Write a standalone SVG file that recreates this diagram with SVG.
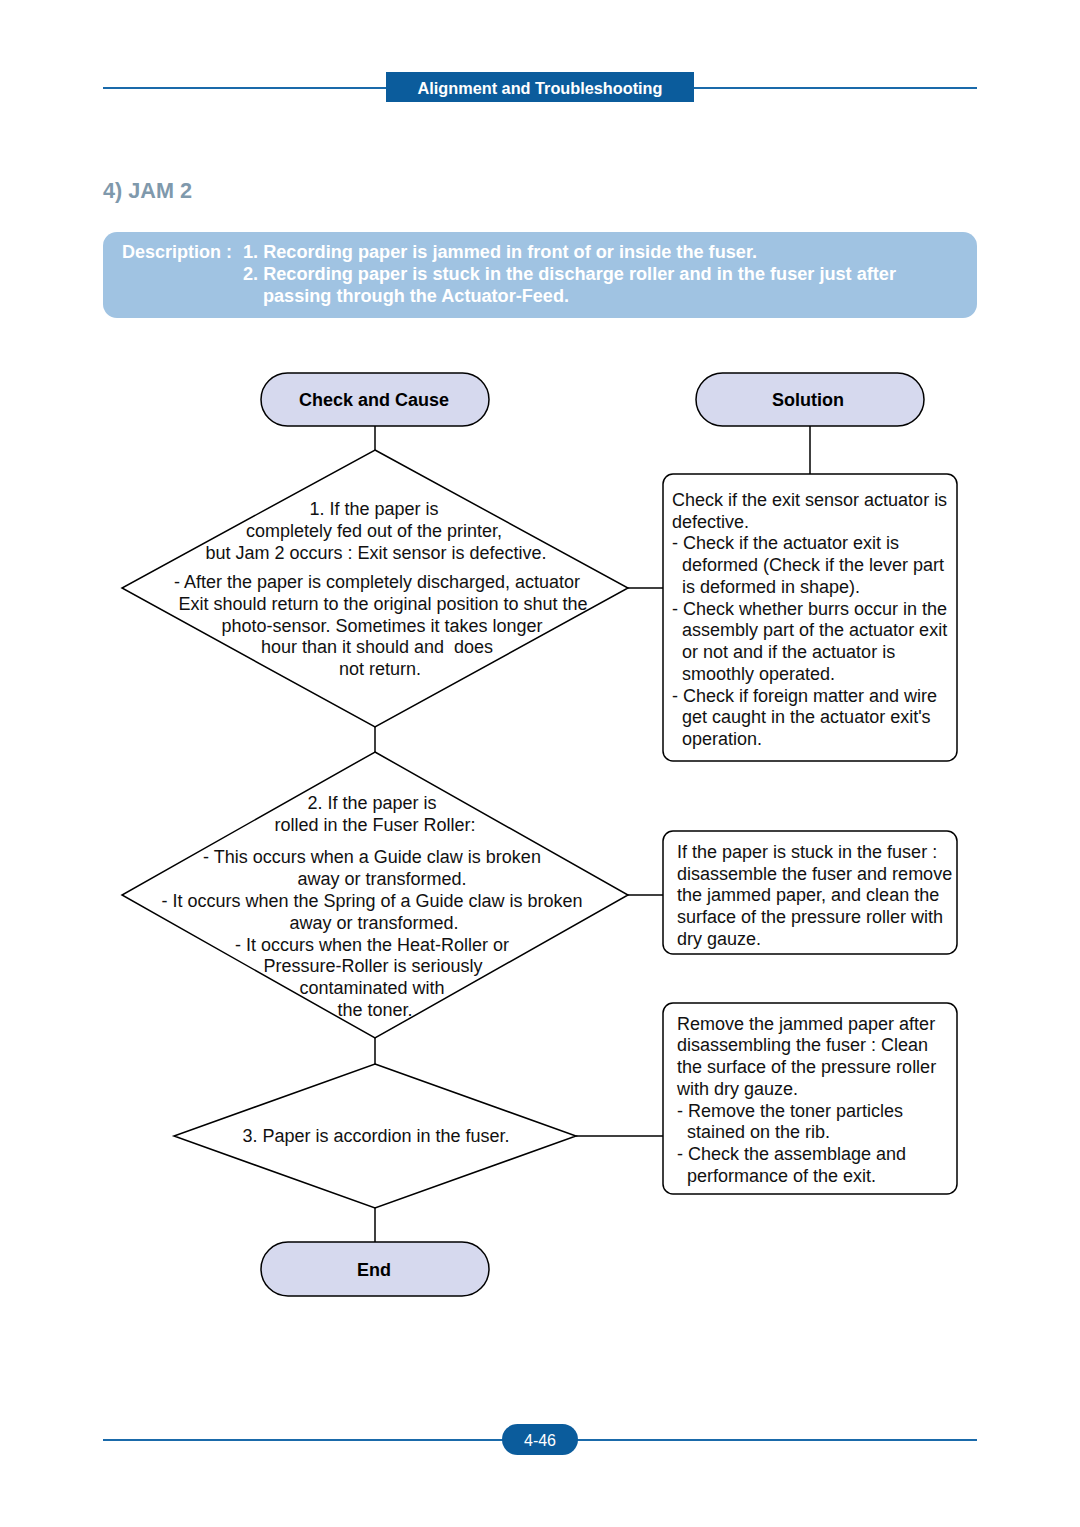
<svg xmlns="http://www.w3.org/2000/svg" width="1080" height="1527" viewBox="0 0 1080 1527">
<style>
.ln{stroke:#000;stroke-width:1.5;fill:none}
.pill{fill:#d6d9ee;stroke:#000;stroke-width:1.5}
.dia{fill:#fff;stroke:#000;stroke-width:1.5}
.box{fill:#fff;stroke:#000;stroke-width:1.5}
.t{font-family:"Liberation Sans",Arial,sans-serif;font-size:18px;fill:#111}
.tb{font-family:"Liberation Sans",Arial,sans-serif;font-size:18px;font-weight:bold;fill:#000}
.c{text-anchor:middle}
.hd{font-family:"Liberation Sans",Arial,sans-serif;font-weight:bold;fill:#fff}
</style>
<rect width="1080" height="1527" fill="#fff"/>
<g id="header">
<line x1="103" y1="88" x2="977" y2="88" stroke="#1a6aaa" stroke-width="2"/>
<rect x="386" y="72" width="308" height="30" fill="#0b5c9c"/>
<text class="hd" x="540" y="94" font-size="16" text-anchor="middle" textLength="245" lengthAdjust="spacingAndGlyphs">Alignment and Troubleshooting</text>
</g>
<text id="title" x="103" y="198" font-family="'Liberation Sans',Arial,sans-serif" font-size="22" font-weight="bold" fill="#7f99ac" textLength="89" lengthAdjust="spacingAndGlyphs">4) JAM 2</text>
<g id="description">
<rect x="103" y="232" width="874" height="86" rx="14" fill="#a0c3e2"/>
<text class="hd" x="122" y="258" font-size="18" textLength="110" lengthAdjust="spacingAndGlyphs">Description :</text>
<text class="hd" x="243" y="258" font-size="18" textLength="514" lengthAdjust="spacingAndGlyphs">1. Recording paper is jammed in front of or inside the fuser.</text>
<text class="hd" x="243" y="280" font-size="18" textLength="653" lengthAdjust="spacingAndGlyphs">2. Recording paper is stuck in the discharge roller and in the fuser just after</text>
<text class="hd" x="263" y="302" font-size="18" textLength="306" lengthAdjust="spacingAndGlyphs">passing through the Actuator-Feed.</text>
</g>
<g id="connectors">
<line class="ln" x1="375" y1="426" x2="375" y2="450"/>
<line class="ln" x1="810" y1="426" x2="810" y2="474"/>
<line class="ln" x1="628" y1="588" x2="663" y2="588"/>
<line class="ln" x1="375" y1="727" x2="375" y2="752"/>
<line class="ln" x1="628" y1="895" x2="663" y2="895"/>
<line class="ln" x1="375" y1="1038" x2="375" y2="1064"/>
<line class="ln" x1="576" y1="1136" x2="663" y2="1136"/>
<line class="ln" x1="375" y1="1208" x2="375" y2="1242"/>
</g>
<g id="check-and-cause">
<rect class="pill" x="261" y="373" width="228" height="53" rx="26.5"/>
<text class="tb c" x="374" y="406">Check and Cause</text>
</g>
<g id="solution">
<rect class="pill" x="696" y="373" width="228" height="53" rx="26.5"/>
<text class="tb c" x="808" y="406">Solution</text>
</g>
<g id="decision1">
<polygon class="dia" points="375,450 628,588 375,727 122,588"/>
<text class="t c" x="374" y="515">1. If the paper is</text>
<text class="t c" x="374" y="537">completely fed out of the printer,</text>
<text class="t c" x="376" y="559">but Jam 2 occurs : Exit sensor is defective.</text>
<text class="t c" x="377" y="588">- After the paper is completely discharged, actuator</text>
<text class="t c" x="383" y="610">Exit should return to the original position to shut the</text>
<text class="t c" x="382" y="632">photo-sensor. Sometimes it takes longer</text>
<text class="t c" x="377" y="653" xml:space="preserve">hour than it should and  does</text>
<text class="t c" x="380" y="675">not return.</text>
</g>
<g id="solution1">
<rect class="box" x="663" y="474" width="294" height="287" rx="10"/>
<text class="t" x="672" y="506">Check if the exit sensor actuator is</text>
<text class="t" x="672" y="528">defective.</text>
<text class="t" x="672" y="549">- Check if the actuator exit is</text>
<text class="t" x="682" y="571">deformed (Check if the lever part</text>
<text class="t" x="682" y="593">is deformed in shape).</text>
<text class="t" x="672" y="615">- Check whether burrs occur in the</text>
<text class="t" x="682" y="636">assembly part of the actuator exit</text>
<text class="t" x="682" y="658">or not and if the actuator is</text>
<text class="t" x="682" y="680">smoothly operated.</text>
<text class="t" x="672" y="702">- Check if foreign matter and wire</text>
<text class="t" x="682" y="723">get caught in the actuator exit's</text>
<text class="t" x="682" y="745">operation.</text>
</g>
<g id="decision2">
<polygon class="dia" points="375,752 628,895 375,1038 122,895"/>
<text class="t c" x="372" y="809">2. If the paper is</text>
<text class="t c" x="375" y="831">rolled in the Fuser Roller:</text>
<text class="t c" x="372" y="863">- This occurs when a Guide claw is broken</text>
<text class="t c" x="382" y="885">away or transformed.</text>
<text class="t c" x="372" y="907">- It occurs when the Spring of a Guide claw is broken</text>
<text class="t c" x="374" y="929">away or transformed.</text>
<text class="t c" x="372" y="951">- It occurs when the Heat-Roller or</text>
<text class="t c" x="373" y="972">Pressure-Roller is seriously</text>
<text class="t c" x="372" y="994">contaminated with</text>
<text class="t c" x="375" y="1016">the toner.</text>
</g>
<g id="solution2">
<rect class="box" x="663" y="831" width="294" height="123" rx="10"/>
<text class="t" x="677" y="858">If the paper is stuck in the fuser :</text>
<text class="t" x="677" y="880">disassemble the fuser and remove</text>
<text class="t" x="677" y="901">the jammed paper, and clean the</text>
<text class="t" x="677" y="923">surface of the pressure roller with</text>
<text class="t" x="677" y="945">dry gauze.</text>
</g>
<g id="decision3">
<polygon class="dia" points="375,1064 576,1136 375,1208 174,1136"/>
<text class="t c" x="376" y="1142">3. Paper is accordion in the fuser.</text>
</g>
<g id="solution3">
<rect class="box" x="663" y="1003" width="294" height="191" rx="10"/>
<text class="t" x="677" y="1030">Remove the jammed paper after</text>
<text class="t" x="677" y="1051">disassembling the fuser : Clean</text>
<text class="t" x="677" y="1073">the surface of the pressure roller</text>
<text class="t" x="677" y="1095">with dry gauze.</text>
<text class="t" x="677" y="1117">- Remove the toner particles</text>
<text class="t" x="687" y="1138">stained on the rib.</text>
<text class="t" x="677" y="1160">- Check the assemblage and</text>
<text class="t" x="687" y="1182">performance of the exit.</text>
</g>
<g id="end">
<rect class="pill" x="261" y="1242" width="228" height="54" rx="27"/>
<text class="tb c" x="374" y="1276">End</text>
</g>
<g id="footer">
<line x1="103" y1="1440" x2="977" y2="1440" stroke="#1a6aaa" stroke-width="2"/>
<rect x="502" y="1424" width="76" height="31" rx="15.5" fill="#0b5c9c"/>
<text x="540" y="1446" font-family="'Liberation Sans',Arial,sans-serif" font-size="16" fill="#fff" text-anchor="middle">4-46</text>
</g>
</svg>
